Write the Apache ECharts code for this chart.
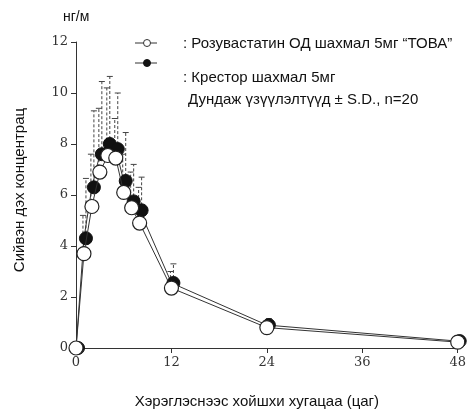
<!DOCTYPE html>
<html>
<head>
<meta charset="utf-8">
<script src="https://cdn.jsdelivr.net/npm/echarts@6/dist/echarts.min.js"></script>
<style>html,body{margin:0;padding:0;background:#fff}#c{width:469px;height:414px}</style>
</head>
<body>
<div id="c"></div>
<script>
var times = [0, 1, 2, 3, 4, 5, 6, 7, 8, 12, 24, 48];
var tovaMean  = [0, 3.7, 5.55, 6.9, 7.55, 7.45, 6.1, 5.5, 4.9, 2.35, 0.8, 0.23];
var tovaUpper = [0, 5.2, 7.6, 9.4, 10.2, 9.0, 7.6, 6.9, 6.3, 3.0, 1.05, 0.33];
var crestorMean  = [0, 4.3, 6.3, 7.6, 8.0, 7.8, 6.55, 5.75, 5.4, 2.55, 0.9, 0.27];
var crestorUpper = [0, 6.65, 9.3, 10.45, 10.65, 10.0, 8.45, 7.2, 6.7, 3.3, 1.15, 0.38];
var xTicks = [0, 12, 24, 36, 48];
var yTicks = [0, 2, 4, 6, 8, 10, 12];
var legend1 = ': Розувастатин ОД шахмал 5мг “ТОВА”';
var legend2 = ': Крестор шахмал 5мг';
var legend3 = 'Дундаж үзүүлэлтүүд ± S.D., n=20';

function pairs(xs, ys) { return xs.map(function (x, i) { return [x, ys[i]]; }); }
function errPairs(xs, m, u) { return xs.map(function (x, i) { return [x, m[i], u[i]]; }); }

function errRender(offset) {
  return function (params, api) {
    var lo = api.coord([api.value(0), api.value(1)]);
    var hi = api.coord([api.value(0), api.value(2)]);
    var x = lo[0] + offset;
    if (api.value(2) <= api.value(1)) return null;
    return {
      type: 'group',
      children: [
        { type: 'line', shape: { x1: x, y1: lo[1], x2: x, y2: hi[1] },
          style: { stroke: '#444', lineWidth: 1, lineDash: [3, 2] } },
        { type: 'line', shape: { x1: x - 3, y1: hi[1], x2: x + 3, y2: hi[1] },
          style: { stroke: '#444', lineWidth: 1 } }
      ]
    };
  };
}

var chart = echarts.init(document.getElementById('c'));
var serif = 'DejaVu Serif';
var sans = 'Liberation Sans';
chart.setOption({
  animation: false,
  backgroundColor: '#fff',
  grid: { left: 76, right: 10, top: 42, bottom: 61 },
  xAxis: {
    type: 'value', min: 0, max: 48, interval: 12,
    axisLine: { show: true, lineStyle: { color: '#333', width: 1 } },
    axisTick: { show: true, length: 5, lineStyle: { color: '#333' } },
    axisLabel: { color: '#333', fontFamily: serif, fontSize: 13, margin: 8,
      formatter: function (v) { return xTicks.indexOf(v) >= 0 ? String(v) : ''; } },
    splitLine: { show: false },
    name: 'Хэрэглэснээс хойшхи хугацаа (цаг)', nameLocation: 'middle', nameGap: 46,
    nameTextStyle: { color: '#111', fontFamily: sans, fontSize: 15, padding: [0, 20, 0, 0] }
  },
  yAxis: {
    type: 'value', min: 0, max: 12, interval: 2,
    axisLine: { show: true, lineStyle: { color: '#333', width: 1 } },
    axisTick: { show: true, length: 5, lineStyle: { color: '#333' } },
    axisLabel: { color: '#333', fontFamily: serif, fontSize: 13, margin: 8,
      formatter: function (v) { return yTicks.indexOf(v) >= 0 ? String(v) : ''; } },
    splitLine: { show: false },
    name: 'Сийвэн дэх концентрац', nameLocation: 'middle', nameGap: 49, nameRotate: 90,
    nameTextStyle: { color: '#111', fontFamily: sans, fontSize: 15, padding: [0, 0, 0, 10] }
  },
  graphic: [
    { type: 'text', left: 63, top: 10, style: { text: 'нг/м', font: '14px "Liberation Sans"', fill: '#111' } },
    { type: 'line', shape: { x1: 135, y1: 43, x2: 157, y2: 43 }, style: { stroke: '#333', lineWidth: 1 } },
    { type: 'circle', shape: { cx: 147, cy: 43, r: 3.5 }, style: { fill: '#fff', stroke: '#333', lineWidth: 1 } },
    { type: 'line', shape: { x1: 135, y1: 63, x2: 157, y2: 63 }, style: { stroke: '#333', lineWidth: 1 } },
    { type: 'circle', shape: { cx: 147, cy: 63, r: 3.5 }, style: { fill: '#111', stroke: '#111', lineWidth: 1 } },
    { type: 'text', left: 183, top: 36, style: { text: legend1, font: '15px "Liberation Sans"', fill: '#111' } },
    { type: 'text', left: 183, top: 70, style: { text: legend2, font: '15px "Liberation Sans"', fill: '#111' } },
    { type: 'text', left: 188, top: 92, style: { text: legend3, font: '15px "Liberation Sans"', fill: '#111' } }
  ],
  series: [
    { type: 'custom', name: 'crestorErr', renderItem: errRender(2), data: errPairs(times, crestorMean, crestorUpper), z: 1, silent: true },
    { type: 'custom', name: 'tovaErr', renderItem: errRender(-1), data: errPairs(times, tovaMean, tovaUpper), z: 1, silent: true },
    { type: 'line', name: 'Крестор', data: pairs(times, crestorMean), z: 2,
      symbol: 'circle', symbolSize: 13, symbolOffset: [2, 0], showAllSymbol: true,
      lineStyle: { color: '#333', width: 1 },
      itemStyle: { color: '#111', borderColor: '#111', borderWidth: 1 } },
    { type: 'line', name: 'ТОВА', data: pairs(times, tovaMean), z: 3,
      symbol: 'circle', symbolSize: 14, showAllSymbol: true,
      lineStyle: { color: '#333', width: 1 },
      itemStyle: { color: '#fff', borderColor: '#222', borderWidth: 1.2 } }
  ]
});
</script>
</body>
</html>
